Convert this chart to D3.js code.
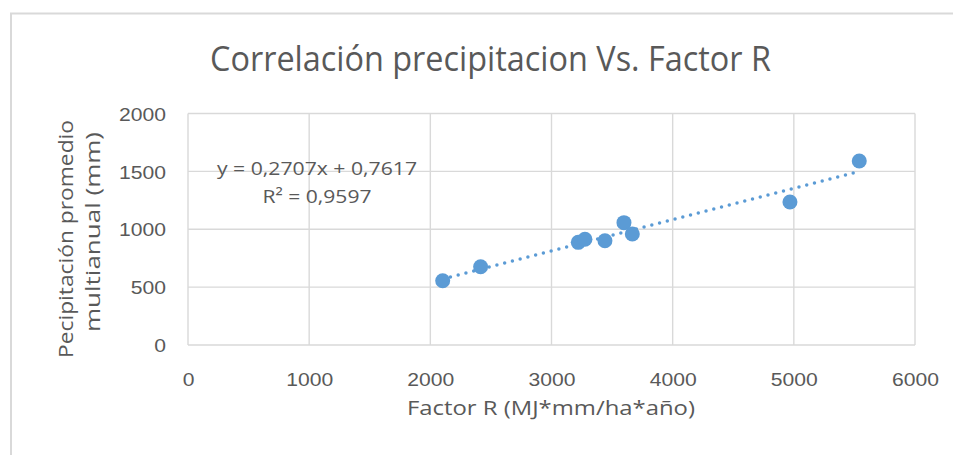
<!DOCTYPE html>
<html>
<head>
<meta charset="utf-8">
<script src="https://cdn.jsdelivr.net/npm/d3@7"></script>
<style>
  body { margin: 0; background: #fff; }
  svg { display: block; font-family: "Open Sans", sans-serif; }
</style>
</head>
<body>
<div id="chart"></div>
<script>
// Data
const factorR = [2102, 2415, 3221, 3276, 3441, 3598, 3667, 4968, 5540];
const precip = [555, 676, 887, 913, 901, 1057, 959, 1235, 1590];
const xTicks = [0, 1000, 2000, 3000, 4000, 5000, 6000];
const yTicks = [0, 500, 1000, 1500, 2000];
const trendCoef = [0.2707, 0.7617]; // slope, intercept shown on the chart
const eqLabels = ["y = 0,2707x + 0,7617", "R² = 0,9597"];

const width = 953;
const height = 455;
const marginTop = 113.5;
const marginRight = 38;
const marginBottom = 110;
const marginLeft = 188;

const textColor = "#595959";
const gridColor = "#d9d9d9";
const blue = "#5b9bd5";

// stretch text to the width it has in the picture
function fit(sel, w) {
    sel.attr("textLength", w).attr("lengthAdjust", "spacingAndGlyphs");
}

const x = d3.scaleLinear()
    .domain([0, 6000])
    .range([marginLeft, width - marginRight]);

const y = d3.scaleLinear()
    .domain([0, 2000])
    .range([height - marginBottom, marginTop]);

const svg = d3.select("#chart")
    .append("svg")
    .attr("width", width)
    .attr("height", height)
    .attr("viewBox", [0, 0, width, height]);

// outer chart border (runs off the right and bottom)
svg.append("rect")
    .attr("x", 11)
    .attr("y", 13.5)
    .attr("width", width + 20)
    .attr("height", height + 20)
    .attr("fill", "#fff")
    .attr("stroke", gridColor)
    .attr("stroke-width", 2);

// grid
const grid = svg.append("g")
    .attr("stroke", gridColor)
    .attr("stroke-width", 1.4);

grid.selectAll("line.v")
    .data(xTicks)
    .join("line")
    .attr("class", "v")
    .attr("x1", (d) => x(d))
    .attr("x2", (d) => x(d))
    .attr("y1", y(2000))
    .attr("y2", y(0));

grid.selectAll("line.h")
    .data(yTicks)
    .join("line")
    .attr("class", "h")
    .attr("x1", x(0))
    .attr("x2", x(6000))
    .attr("y1", (d) => y(d))
    .attr("y2", (d) => y(d));

// axes
const xAxis = svg.append("g")
    .attr("transform", `translate(0,${height - marginBottom})`)
    .call(d3.axisBottom(x).tickValues(xTicks).tickSize(0).tickFormat(d3.format("d")));
xAxis.select(".domain").remove();
xAxis.selectAll("text")
    .attr("dy", null)
    .attr("y", 40.5)
    .attr("fill", textColor)
    .style("font-size", "19px")
    .each(function (d) {
        fit(d3.select(this), String(d).length * 11.75);
    });

const yAxis = svg.append("g")
    .attr("transform", `translate(${marginLeft},0)`)
    .call(d3.axisLeft(y).tickValues(yTicks).tickSize(0).tickPadding(22).tickFormat(d3.format("d")));
yAxis.select(".domain").remove();
yAxis.selectAll("text")
    .attr("fill", textColor)
    .attr("dy", "0.36em")
    .style("font-size", "18.5px")
    .each(function (d) {
        fit(d3.select(this), String(d).length * 11.75);
    });

// trendline (dotted)
const xMin = d3.min(factorR);
const xMax = d3.max(factorR);
svg.append("line")
    .attr("x1", x(xMin))
    .attr("y1", y(trendCoef[0] * xMin + trendCoef[1]))
    .attr("x2", x(xMax))
    .attr("y2", y(trendCoef[0] * xMax + trendCoef[1]))
    .attr("stroke", blue)
    .attr("stroke-width", 3.5)
    .attr("stroke-linecap", "round")
    .attr("stroke-dasharray", "0,8");

// points
svg.append("g")
    .selectAll("circle")
    .data(factorR)
    .join("circle")
    .attr("cx", (d) => x(d))
    .attr("cy", (d, i) => y(precip[i]))
    .attr("r", 7.5)
    .attr("fill", blue);

// trendline equation
svg.append("text")
    .attr("x", 317)
    .attr("y", 175)
    .attr("text-anchor", "middle")
    .attr("fill", textColor)
    .style("font-size", "19px")
    .text(eqLabels[0])
    .call(fit, 200);

svg.append("text")
    .attr("x", 317)
    .attr("y", 203)
    .attr("text-anchor", "middle")
    .attr("fill", textColor)
    .style("font-size", "19px")
    .text(eqLabels[1])
    .call(fit, 109);

// title
svg.append("text")
    .attr("x", 490.5)
    .attr("y", 71)
    .attr("text-anchor", "middle")
    .attr("fill", textColor)
    .style("font-size", "35px")
    .text("Correlación precipitacion Vs. Factor R")
    .call(fit, 561);

// x axis title
svg.append("text")
    .attr("x", 551)
    .attr("y", 414.5)
    .attr("text-anchor", "middle")
    .attr("fill", textColor)
    .style("font-size", "20.5px")
    .text("Factor R (MJ*mm/ha*año)")
    .call(fit, 288);

// y axis title (two lines)
svg.append("text")
    .attr("transform", "translate(72.5,239) rotate(-90)")
    .attr("text-anchor", "middle")
    .attr("fill", textColor)
    .style("font-size", "20.5px")
    .text("Pecipitación promedio")
    .call(fit, 238);

svg.append("text")
    .attr("transform", "translate(99.5,232) rotate(-90)")
    .attr("text-anchor", "middle")
    .attr("fill", textColor)
    .style("font-size", "20.5px")
    .text("multianual (mm)")
    .call(fit, 200);
</script>
</body>
</html>
